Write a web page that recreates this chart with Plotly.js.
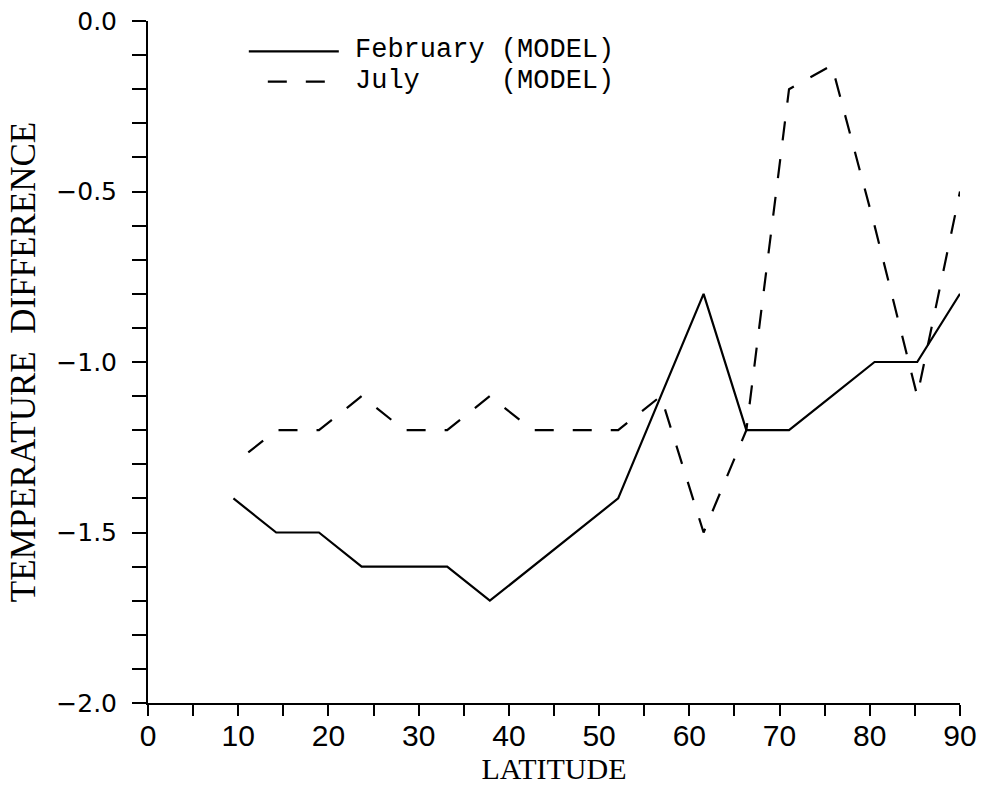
<!DOCTYPE html>
<html>
<head>
<meta charset="utf-8">
<script src="https://cdn.plot.ly/plotly-3.0.1.min.js"></script>
<style>html,body{margin:0;padding:0;background:#fff;}#chart{width:982px;height:785px;}</style>
</head>
<body>
<div id="chart"></div>
<script>
// Latitudes of the model grid points (degrees)
const latitude = [9.47, 14.21, 18.95, 23.68, 28.42, 33.16, 37.89, 42.63, 47.37, 52.11, 56.84, 61.58, 66.32, 71.05, 75.79, 80.53, 85.26, 90.0];
// February (MODEL) temperature difference
const february = [-1.4, -1.5, -1.5, -1.6, -1.6, -1.6, -1.7, -1.6, -1.5, -1.4, -1.1, -0.8, -1.2, -1.2, -1.1, -1.0, -1.0, -0.8];
// July (MODEL) temperature difference
const july = [-1.3, -1.2, -1.2, -1.1, -1.2, -1.2, -1.1, -1.2, -1.2, -1.2, -1.1, -1.5, -1.2, -0.2, -0.13, -0.6, -1.1, -0.5];

const seriesLabels = ['February\u00A0(MODEL)', 'July\u00A0\u00A0\u00A0\u00A0\u00A0(MODEL)'];
const xTickVals = [0, 10, 20, 30, 40, 50, 60, 70, 80, 90];
const xTickText = ['0', '10', '20', '30', '40', '50', '60', '70', '80', '90'];
const xMinorVals = [5, 15, 25, 35, 45, 55, 65, 75, 85];
const yTickVals = [-2.0, -1.5, -1.0, -0.5, 0.0];
const yTickText = ['\u22122.0', '\u22121.5', '\u22121.0', '\u22120.5', '0.0'];

const traces = [
  {x: latitude, y: february, type: 'scatter', mode: 'lines', name: '\u00A0',
   line: {color: '#000', width: 2.2, dash: 'solid'}, hoverinfo: 'skip'},
  {x: latitude, y: july, type: 'scatter', mode: 'lines', name: '\u00A0\u00A0',
   line: {color: '#000', width: 2.2, dash: '0px,19px,19px,0px'}, hoverinfo: 'skip'}
];

const layout = {
  width: 982, height: 785,
  margin: {l: 148, r: 22, t: 21, b: 82},
  paper_bgcolor: '#fff', plot_bgcolor: '#fff',
  showlegend: true,
  legend: {x: 0.118, y: 0.985, xanchor: 'left', yanchor: 'top', bgcolor: 'rgba(0,0,0,0)',
           borderwidth: 0, itemwidth: 90, font: {family: 'Liberation Mono', size: 21, color: '#000'},
           itemclick: false, itemdoubleclick: false},
  annotations: [
    {text: seriesLabels[0], xref: 'paper', yref: 'paper', x: 0.2525, y: 0.958, xanchor: 'left', yanchor: 'middle',
     showarrow: false, font: {family: 'Liberation Mono', size: 27, color: '#000'}},
    {text: seriesLabels[1], xref: 'paper', yref: 'paper', x: 0.2525, y: 0.9125, xanchor: 'left', yanchor: 'middle',
     showarrow: false, font: {family: 'Liberation Mono', size: 27, color: '#000'}}
  ],
  xaxis: {
    range: [0, 90], showgrid: false, zeroline: false,
    showline: true, linecolor: '#000', linewidth: 2,
    ticks: 'outside', ticklen: 11, tickwidth: 2, tickcolor: '#000',
    tickmode: 'array', tickvals: xTickVals, ticktext: xTickText,
    minor: {tickmode: 'array', tickvals: xMinorVals, ticks: 'outside', ticklen: 11, tickwidth: 2, tickcolor: '#000', showgrid: false},
    ticklabelstandoff: -6,
    tickfont: {family: 'Liberation Sans', size: 30, color: '#000'},
    title: {text: 'LATITUDE', font: {family: 'Liberation Serif', size: 30, color: '#000'}, standoff: 0}
  },
  yaxis: {
    range: [-2, 0], showgrid: false, zeroline: false,
    showline: true, linecolor: '#000', linewidth: 2,
    ticks: 'outside', ticklen: 14, tickwidth: 2, tickcolor: '#000',
    tickmode: 'array', tickvals: yTickVals, ticktext: yTickText,
    minor: {dtick: 0.1, ticks: 'outside', ticklen: 14, tickwidth: 2, tickcolor: '#000', showgrid: false},
    ticklabelstandoff: 10,
    tickfont: {family: 'DejaVu Sans', size: 25, color: '#000'},
    title: {text: 'TEMPERATURE\u00A0\u00A0DIFFERENCE', font: {family: 'Liberation Serif', size: 35, color: '#000'}, standoff: 10}
  }
};

Plotly.newPlot('chart', traces, layout, {displayModeBar: false, staticPlot: true});
</script>
</body>
</html>
